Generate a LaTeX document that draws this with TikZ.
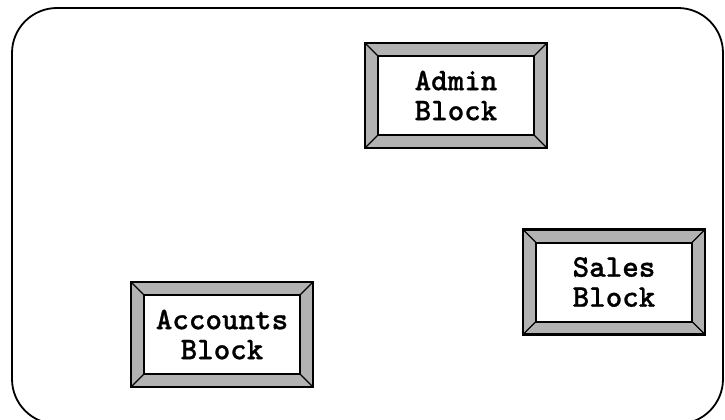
\documentclass[tikz,border=0pt]{standalone}
\usepackage{fontspec}
\newfontfamily\courb[FakeBold=0.8]{lmmonolt10-bold.otf}
\definecolor{bevelgray}{RGB}{178,178,178}
\tikzset{
  bevelbox/.style={
    draw=black, line width=2.4pt, fill=bevelgray,
    minimum width=182pt, minimum height=105pt, inner sep=0pt,
    align=center, font=\courb\fontsize{31.5}{30}\selectfont,
    path picture={
      \coordinate (bnw) at (path picture bounding box.north west);
      \coordinate (bne) at (path picture bounding box.north east);
      \coordinate (bsw) at (path picture bounding box.south west);
      \coordinate (bse) at (path picture bounding box.south east);
      \coordinate (inw) at ([shift={(13pt,-13pt)}]bnw);
      \coordinate (ine) at ([shift={(-13pt,-13pt)}]bne);
      \coordinate (isw) at ([shift={(13pt,13pt)}]bsw);
      \coordinate (ise) at ([shift={(-13pt,13pt)}]bse);
      \fill[white] (inw) rectangle (ise);
      \draw[line width=1.3pt] (bnw) -- (inw) (bne) -- (ine) (bsw) -- (isw) (bse) -- (ise);
      \draw[line width=2pt] (inw) rectangle (ise);
    }
  },
  frame/.style={draw=black, line width=1.8pt, rounded corners=45pt}
}
\begin{document}
\begin{tikzpicture}[x=1pt,y=-1pt]
  \useasboundingbox[fill=white] (0,0) rectangle (725,420);
  \clip (0,0) rectangle (725,420);
  \draw[frame] (12,8) rectangle (723,424);
  \node[bevelbox] (admin) at (456,95.5) {Admin\\Block};
  \node[bevelbox] (accounts) at (222,334.5) {Accounts\\Block};
  \node[bevelbox] (sales) at (614,282) {Sales\\Block};
\end{tikzpicture}
\end{document}
